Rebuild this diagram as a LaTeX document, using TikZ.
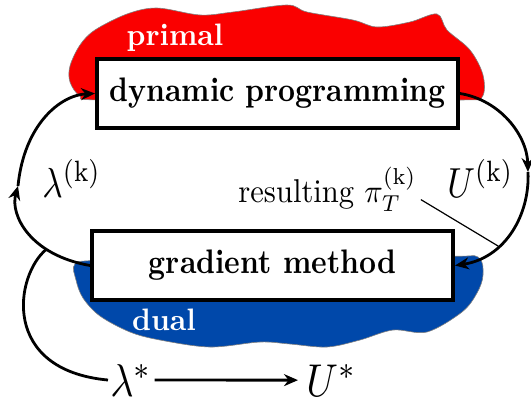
\RequirePackage{fix-cm}
\documentclass[tikz,border=0pt]{standalone}
\usepackage{fontspec}
\definecolor{primalRed}{RGB}{250,0,0}
\definecolor{dualBlue}{RGB}{0,72,170}
\usetikzlibrary{arrows.meta, calc}
\newcommand{\grow}[3]{\scalebox{#1}[#2]{#3}}

\begin{document}
\begin{tikzpicture}[x=0.5pt, y=-0.5pt,
    stage/.style={draw, line width=2pt, fill=white, inner sep=0pt, minimum width=180.5pt, minimum height=34.5pt, font=\bfseries},
    phase/.style={text=white, inner sep=0pt, font=\bfseries},
    cycleline/.style={line width=1.4pt, -{Stealth[length=7pt, width=6pt]}},
    itervar/.style={inner sep=1pt},
    optvar/.style={inner sep=1pt}]
        \useasboundingbox (0,0) rectangle (531,403);

        % Primal and dual areas
        \filldraw[primalRed, draw=black!50, line width=0.3pt] plot[smooth cycle, tension=0.55] coordinates {(280,100) (100,100) (80,96) (70,82) (70,66) (80,45) (95,30) (127,14) (157,8) (200,15) (233,12) (287,5) (307,12) (353,20) (377,27) (410,22) (437,14) (447,30) (470,50) (483,75) (482,97) (460,100)};
        \filldraw[dualBlue, draw=black!50, line width=0.3pt] plot[smooth cycle, tension=0.55] coordinates {(280,250) (445,256) (478,257) (483,275) (477,293) (462,312) (427,332) (393,330) (360,340) (327,347) (290,344) (260,342) (210,347) (160,340) (130,332) (100,316) (83,298) (76,280) (75,264) (100,260)};
        \node[phase, anchor=base] (primal) at (175,45) {\grow{1.48}{1.55}{primal}};
        \node[phase, anchor=base] (dual) at (164,330) {\grow{1.48}{1.55}{dual}};

        % Boxes
        \node[stage] (dp) at (277.5,93.5) {\grow{1.48}{1.7}{dynamic programming}};
        \node[stage] (gm) at (272.5,265.5) {\grow{1.48}{1.7}{gradient method}};

        % Iteration loop
        \draw[cycleline] (gm.west) .. controls (30,255) and (10,215) .. (18,186) coordinate[pos=0.3] (fork) coordinate (lup);
        \draw[cycleline] (lup) .. controls (24,125) and (60,95) .. (dp.west);
        \draw[cycleline] (dp.east) .. controls (500,100) and (527,135) .. (528,172) coordinate (rdown);
        \draw[cycleline] (rdown) .. controls (530,215) and (505,258) .. (gm.east) coordinate[pos=0.65] (hit);

        % Labels
        \node[itervar, anchor=base west] (lamk) at (40,197) {\grow{1.75}{2.1}{$\lambda^{(\mathrm{k})}$}};
        \node[itervar, anchor=base west] (Uk) at (445,197) {\grow{1.75}{2.1}{$U^{(\mathrm{k})}$}};
        \node[inner sep=1pt, anchor=base west] (res) at (236,202) {\grow{1.53}{1.65}{resulting $\pi_T^{(\mathrm{k})}$}};
        \draw[line width=0.6pt] ($(res.east)+(2,10)$) -- (hit);

        % Optimum
        \node[optvar, anchor=base west] (lams) at (108,396) {\grow{2}{2.3}{$\lambda^*$}};
        \node[optvar, anchor=base west] (Us) at (304,396) {\grow{2}{2.3}{$U^*$}};
        \draw[line width=1.4pt] (fork) .. controls (15,275) and (0,370) .. (lams.west);
        \draw[cycleline, shorten >=3pt] (lams) -- (Us);
    \end{tikzpicture}
\end{document}
